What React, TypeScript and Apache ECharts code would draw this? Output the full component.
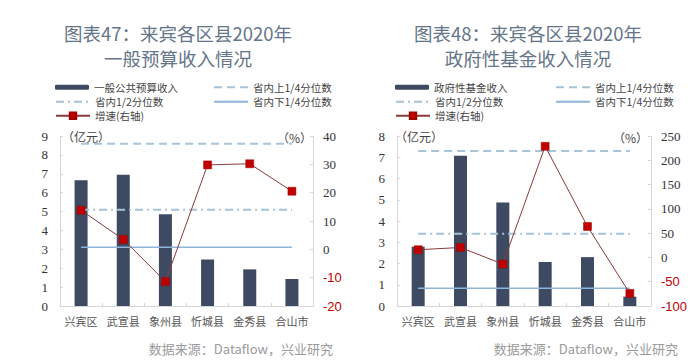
import React, { useEffect, useRef } from "react";
import * as echarts from "echarts";

const categories = ["兴宾区", "武宣县", "象州县", "忻城县", "金秀县", "合山市"];

// 图表47
const budget47 = [6.66, 6.95, 4.86, 2.46, 1.94, 1.43];
const growth47 = [13.8, 3.5, -11.4, 29.8, 30.2, 20.5];
const upperQ47 = [37.3, 37.3, 37.3, 37.3, 37.3, 37.3];
const medianQ47 = [14.0, 14.0, 14.0, 14.0, 14.0, 14.0];
const lowerQ47 = [0.7, 0.7, 0.7, 0.7, 0.7, 0.7];

// 图表48
const fund48 = [2.79, 7.07, 4.87, 2.07, 2.3, 0.44];
const growth48 = [15.8, 20.5, -13.7, 228.8, 63.7, -74];
const upperQ48 = [219, 219, 219, 219, 219, 219];
const medianQ48 = [48.6, 48.6, 48.6, 48.6, 48.6, 48.6];
const lowerQ48 = [-63.7, -63.7, -63.7, -63.7, -63.7, -63.7];

const NAME_UP = "省内上1/4分位数";
const NAME_MID = "省内1/2分位数";
const NAME_LOW = "省内下1/4分位数";
const NAME_GROWTH = "增速(右轴)";

const BAR = "#3d4a62";
const AXIS = "#d6d6d6";
const QCOLOR = "#a7c3d8";
const LOWCOLOR = "#8fb4d9";
const CJK = "'Noto Sans CJK SC', sans-serif";
const SERIF = "'Liberation Serif', 'DejaVu Serif', serif";

export default function App() {
  const ref = useRef<HTMLDivElement>(null);
  useEffect(() => {
    if (!ref.current) return;
    const chart = echarts.init(ref.current, undefined, { renderer: "svg" });

    const grids = [
      { left: 60, top: 136, width: 253, height: 170 },
      { left: 397, top: 136, width: 254, height: 170 },
    ];

    const xAxes = grids.map((_, i) => ({
      type: "category",
      gridIndex: i,
      data: categories,
      axisLine: { lineStyle: { color: AXIS } },
      axisTick: { show: true, inside: true, length: 3, lineStyle: { color: AXIS } },
      axisLabel: { interval: 0, color: "#555", fontFamily: CJK, fontSize: 11, margin: 9 },
    }));

    const leftAxis = (i: number, max: number) => ({
      type: "value",
      gridIndex: i,
      min: 0,
      max,
      interval: 1,
      splitLine: { show: false },
      axisLine: { show: true, lineStyle: { color: AXIS } },
      axisTick: { show: true, inside: true, length: 3, lineStyle: { color: AXIS } },
      axisLabel: { color: "#333", fontFamily: SERIF, fontSize: 13, margin: 12 },
    });
    const rightAxis = (i: number, min: number, max: number, interval: number) => ({
      type: "value",
      gridIndex: i,
      position: "right",
      min,
      max,
      interval,
      splitLine: { show: false },
      axisLine: { show: true, lineStyle: { color: AXIS } },
      axisTick: { show: true, inside: true, length: 3, lineStyle: { color: AXIS } },
      axisLabel: {
        margin: 10,
        formatter: (v: number) => (v < 0 ? `{neg|${v}}` : `{pos|${v}}`),
        rich: {
          pos: { color: "#333", fontFamily: SERIF, fontSize: 13 },
          neg: { color: "#c00000", fontFamily: "'Liberation Sans', Arial, sans-serif", fontSize: 13 },
        },
      },
    });

    const mkSeries = (
      idx: number,
      barName: string,
      bars: number[],
      up: number[],
      mid: number[],
      low: number[],
      growth: number[]
    ) => [
      {
        name: barName,
        type: "bar",
        xAxisIndex: idx,
        yAxisIndex: idx * 2,
        data: bars,
        barWidth: 13,
        itemStyle: { color: BAR },
      },
      {
        name: NAME_UP,
        type: "line",
        xAxisIndex: idx,
        yAxisIndex: idx * 2 + 1,
        data: up,
        symbol: "none",
        lineStyle: { color: QCOLOR, width: 2, type: [8, 5] },
        itemStyle: { color: QCOLOR },
      },
      {
        name: NAME_MID,
        type: "line",
        xAxisIndex: idx,
        yAxisIndex: idx * 2 + 1,
        data: mid,
        symbol: "none",
        lineStyle: { color: QCOLOR, width: 2, type: [8, 4, 2, 4] },
        itemStyle: { color: QCOLOR },
      },
      {
        name: NAME_LOW,
        type: "line",
        xAxisIndex: idx,
        yAxisIndex: idx * 2 + 1,
        data: low,
        symbol: "none",
        lineStyle: { color: LOWCOLOR, width: 1.5 },
        itemStyle: { color: LOWCOLOR },
      },
      {
        name: NAME_GROWTH,
        type: "line",
        xAxisIndex: idx,
        yAxisIndex: idx * 2 + 1,
        data: growth,
        symbol: "rect",
        symbolSize: 8,
        lineStyle: { color: "#8b3a3a", width: 1 },
        itemStyle: { color: "#c00000", borderColor: "#a00000", borderWidth: 0.5 },
        z: 5,
      },
    ];

    const legendText = { color: "#444", fontFamily: CJK, fontSize: 10.5 };
    const mkLegend = (name: string, left: number, top: number, itemHeight: number, hideSymbol: boolean) => ({
      data: [name],
      left,
      top,
      itemWidth: 34,
      itemHeight,
      selectedMode: false,
      padding: 0,
      textStyle: legendText,
      ...(hideSymbol ? { itemStyle: { color: "rgba(0,0,0,0)", borderWidth: 0, opacity: 0 } } : {}),
    });

    const legends = [
      mkLegend("一般公共预算收入", 55, 82, 5, false),
      mkLegend(NAME_UP, 213, 82, 5, true),
      mkLegend(NAME_MID, 55, 96.5, 5, true),
      mkLegend(NAME_LOW, 213, 96.5, 5, true),
      mkLegend(NAME_GROWTH, 55, 110.5, 8, false),
      mkLegend("政府性基金收入", 395, 82, 5, false),
      mkLegend(NAME_UP, 555, 82, 5, true),
      mkLegend(NAME_MID, 395, 96.5, 5, true),
      mkLegend(NAME_LOW, 555, 96.5, 5, true),
      mkLegend(NAME_GROWTH, 395, 110.5, 8, false),
    ];

    const titleStyle = { fill: "#66768a", fontFamily: CJK, fontSize: 18.5, align: "center", verticalAlign: "middle" };
    const smallText = { fill: "#444", fontFamily: CJK, fontSize: 12, verticalAlign: "middle" };

    chart.setOption({
      animation: false,
      backgroundColor: "#ffffff",
      grid: grids,
      xAxis: xAxes,
      yAxis: [
        leftAxis(0, 9),
        rightAxis(0, -20, 40, 10),
        leftAxis(1, 8),
        rightAxis(1, -100, 250, 50),
      ],
      legend: legends,
      series: [
        ...mkSeries(0, "一般公共预算收入", budget47, upperQ47, medianQ47, lowerQ47, growth47),
        ...mkSeries(1, "政府性基金收入", fund48, upperQ48, medianQ48, lowerQ48, growth48),
      ],
      graphic: [
        { type: "text", x: 178, y: 33, style: { ...titleStyle, text: "图表47：来宾各区县2020年" } },
        { type: "text", x: 178, y: 58, style: { ...titleStyle, text: "一般预算收入情况" } },
        { type: "text", x: 528, y: 33, style: { ...titleStyle, text: "图表48：来宾各区县2020年" } },
        { type: "text", x: 528, y: 58, style: { ...titleStyle, text: "政府性基金收入情况" } },
        { type: "text", x: 62, y: 136, style: { ...smallText, text: "（亿元）", align: "left" } },
        { type: "text", x: 312, y: 137, style: { ...smallText, text: "（%）", align: "right" } },
        { type: "text", x: 395, y: 136, style: { ...smallText, text: "（亿元）", align: "left" } },
        { type: "text", x: 648, y: 137, style: { ...smallText, text: "（%）", align: "right" } },
        {
          type: "text",
          x: 333,
          y: 348,
          style: { fill: "#9a9a9a", fontFamily: CJK, fontSize: 13, align: "right", verticalAlign: "middle", text: "数据来源：Dataflow，兴业研究" },
        },
        {
          type: "text",
          x: 678,
          y: 348,
          style: { fill: "#9a9a9a", fontFamily: CJK, fontSize: 13, align: "right", verticalAlign: "middle", text: "数据来源：Dataflow，兴业研究" },
        },
      ],
    });
    return () => chart.dispose();
  }, []);

  return (
    <div
      ref={ref}
      style={{ position: "fixed", left: 0, top: 0, width: 700, height: 363, background: "#fff" }}
    />
  );
}
